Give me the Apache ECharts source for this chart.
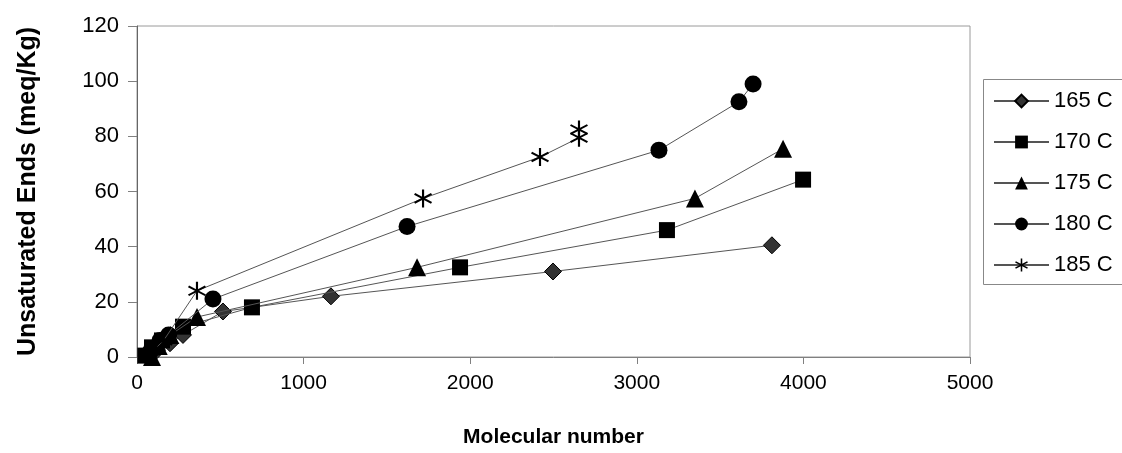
<!DOCTYPE html>
<html>
<head>
<meta charset="utf-8">
<script src="https://cdn.jsdelivr.net/npm/echarts@6/dist/echarts.min.js"></script>
<style>
html,body{margin:0;padding:0;background:#fff;}
#c{width:1122px;height:453px;}
</style>
</head>
<body>
<div id="c"></div>
<script>
const seriesNames = ['165 C','170 C','175 C','180 C','185 C'];
const s165 = [[60,0.5],[120,2.5],[198,5],[276,8],[516,16.5],[1164,22],[2497,31],[3811,40.5]];
const s170 = [[50,0.5],[90,3.5],[150,6],[276,11],[690,18],[1939,32.5],[3181,46],[3998,64.3]];
const s175 = [[90,0],[130,4],[200,8],[360,14.5],[1681,32.5],[3349,57.5],[3878,75.5]];
const s180 = [[80,2],[138,6],[190,8],[456,21],[1621,47.3],[3133,75],[3613,92.5],[3698,99]];
const s185 = [[110,3],[160,6],[360,24],[1717,57.5],[2419,72.5],[2653,79.5],[2653,82.5]];
const xTicks = [0,1000,2000,3000,4000,5000];
const yTicks = [0,20,40,60,80,100,120];

const asterisk = 'path://M-1.1,-10L1.1,-10L1.1,10L-1.1,10Z' +
  'M-9.2,-4.0L-8.1,-5.9L9.2,4.0L8.1,5.9Z' +
  'M-8.1,5.9L-9.2,4.0L8.1,-5.9L9.2,-4.0Z';

const symbols = ['diamond','rect','triangle','circle',asterisk];
const sizes = [17,16,18,17,18];
const fills = ['#333333','#000000','#000000','#000000','#000000'];
const datas = [s165,s170,s175,s180,s185];
const font = '"Liberation Sans", Arial, sans-serif';

const chart = echarts.init(document.getElementById('c'));
chart.setOption({
  animation:false,
  backgroundColor:'#fff',
  textStyle:{fontFamily:font},
  grid:{left:137,top:26,right:152,bottom:95,show:true,borderColor:'#9a9a9a',borderWidth:1},
  graphic:[{
    type:'rect',left:983,top:79,silent:true,z:-1,
    shape:{width:160,height:205},
    style:{fill:'#fff',stroke:'#888',lineWidth:1}
  }],
  legend:{
    orient:'vertical',left:984,top:80,
    padding:[10,10,10,9],
    itemWidth:55,itemHeight:16,itemGap:19,
    textStyle:{fontSize:22,color:'#000',fontFamily:font},
    data:seriesNames
  },
  xAxis:{
    type:'value',min:0,max:5000,interval:1000,
    name:'Molecular number',nameLocation:'middle',nameGap:70,
    nameTextStyle:{fontSize:21,fontWeight:'bold',color:'#000'},
    axisLine:{lineStyle:{color:'#808080'}},
    axisTick:{show:true,length:7,inside:false,lineStyle:{color:'#808080'}},
    axisLabel:{fontSize:21,color:'#000',margin:16,
      formatter:v=>xTicks.includes(v)?String(v):''},
    splitLine:{show:false}
  },
  yAxis:{
    type:'value',min:0,max:120,interval:20,
    name:'Unsaturated Ends (meq/Kg)',nameLocation:'middle',nameGap:96,
    nameTextStyle:{fontSize:25,fontWeight:'bold',color:'#000'},
    axisLine:{show:true,lineStyle:{color:'#666'}},
    axisTick:{show:true,length:9,lineStyle:{color:'#808080'}},
    axisLabel:{fontSize:22,color:'#000',margin:18,
      formatter:v=>yTicks.includes(v)?String(v):''},
    splitLine:{show:false}
  },
  series: seriesNames.map((n,i)=>({
    name:n,type:'line',data:datas[i],
    symbol:symbols[i],symbolSize:sizes[i],showAllSymbol:true,
    lineStyle:{color:'#555',width:1},
    itemStyle:{color:fills[i],borderColor:'#000',borderWidth:i===0?1:0},
    z:2+i
  }))
});
</script>
</body>
</html>
